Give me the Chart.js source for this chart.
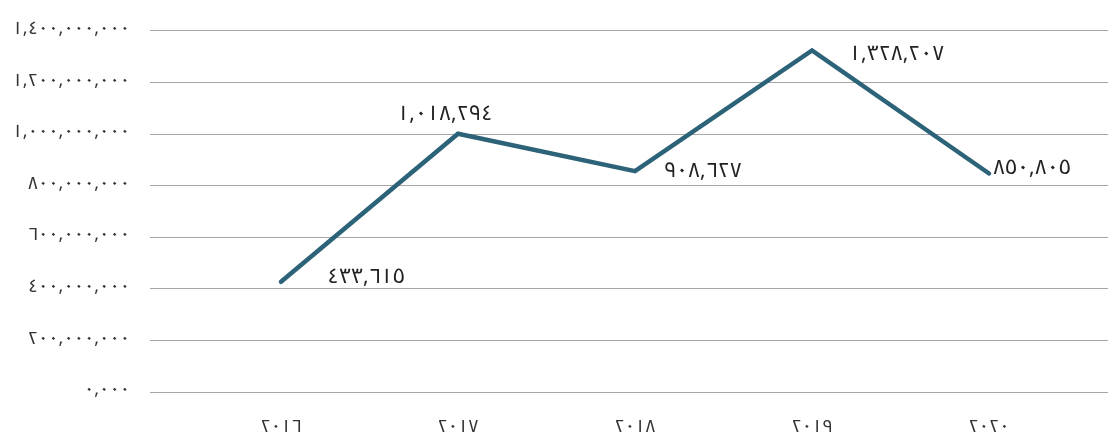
<!DOCTYPE html>
<html>
<head>
<meta charset="utf-8">
<script src="https://cdn.jsdelivr.net/npm/chart.js@4.4.1/dist/chart.umd.min.js"></script>
<style>
    html, body { margin: 0; padding: 0; background: #fff; }
    #wrap { width: 1110px; height: 434px; }
</style>
</head>
<body>
<div id="wrap"><canvas id="salesChart"></canvas></div>
<script>
// Данные графика
const years = [2016, 2017, 2018, 2019, 2020];
const values = [427000000, 1001000000, 856000000, 1324000000, 847000000];
const valueLabels = ['٤٣٣,٦١٥', '١,٠١٨,٢٩٤', '٩٠٨,٦٢٧', '١,٣٢٨,٢٠٧', '٨٥٠,٨٠٥'];
const yTicks = [0, 200000000, 400000000, 600000000, 800000000, 1000000000, 1200000000, 1400000000];
const yTickLabels = ['٠,٠٠٠', '٢٠٠,٠٠٠,٠٠٠', '٤٠٠,٠٠٠,٠٠٠', '٦٠٠,٠٠٠,٠٠٠', '٨٠٠,٠٠٠,٠٠٠',
    '١,٠٠٠,٠٠٠,٠٠٠', '١,٢٠٠,٠٠٠,٠٠٠', '١,٤٠٠,٠٠٠,٠٠٠'];
const xTickLabels = ['٢٠١٦', '٢٠١٧', '٢٠١٨', '٢٠١٩', '٢٠٢٠'];

// смещения подписей значений относительно точек
const labelOffsets = [
    { dx: 46, dy: -3, align: 'left' },
    { dx: -13, dy: -17, align: 'center' },
    { dx: 29, dy: 2, align: 'left' },
    { dx: 37, dy: 6, align: 'left' },
    { dx: 4, dy: -3, align: 'left' }
];

const FONT = '"Noto Kufi Arabic", "DejaVu Sans", sans-serif';

const valueLabelsPlugin = {
    id: 'valueLabels',
    afterDatasetsDraw(chart) {
        const ctx = chart.ctx;
        const meta = chart.getDatasetMeta(0);
        ctx.save();
        ctx.font = '21px ' + FONT;
        ctx.letterSpacing = '1px';
        ctx.fillStyle = '#222';
        ctx.textBaseline = 'middle';
        meta.data.forEach((pt, i) => {
            const o = labelOffsets[i];
            ctx.textAlign = o.align;
            ctx.fillText(valueLabels[i], pt.x + o.dx, pt.y + o.dy);
        });
        ctx.restore();
    }
};

function renderSalesChart() {
    const ctx = document.getElementById('salesChart').getContext('2d');

    new Chart(ctx, {
        type: 'line',
        data: {
            datasets: [{
                data: years.map((y, i) => ({ x: y, y: values[i] })),
                borderColor: 'rgb(44,99,120)',
                borderWidth: 4.5,
                borderCapStyle: 'round',
                borderJoinStyle: 'miter',
                pointRadius: 0,
                fill: false,
                tension: 0
            }]
        },
        options: {
            responsive: true,
            maintainAspectRatio: false,
            animation: false,
            layout: {
                padding: { top: 26, right: 2, left: 0, bottom: 0 }
            },
            plugins: {
                legend: { display: false },
                tooltip: { enabled: false }
            },
            scales: {
                x: {
                    type: 'linear',
                    min: 2015.26,
                    max: 2020.672,
                    grid: { display: false },
                    border: { display: false },
                    afterBuildTicks: axis => {
                        axis.ticks = years.map(v => ({ value: v }));
                    },
                    afterFit: axis => { axis.height = 42; },
                    ticks: {
                        padding: 18,
                        color: '#333',
                        font: { family: FONT, size: 18 },
                        callback: (v) => xTickLabels[years.indexOf(v)]
                    }
                },
                y: {
                    min: 0,
                    max: 1400000000,
                    afterBuildTicks: axis => {
                        axis.ticks = yTicks.map(v => ({ value: v }));
                    },
                    afterFit: axis => { axis.width = 150; },
                    grid: {
                        color: '#a6a6a6',
                        lineWidth: 1,
                        drawTicks: false
                    },
                    border: { display: false },
                    ticks: {
                        padding: 20,
                        color: '#333',
                        font: { family: FONT, size: 18 },
                        callback: (v) => yTickLabels[yTicks.indexOf(v)]
                    }
                }
            }
        },
        plugins: [valueLabelsPlugin]
    });
}

renderSalesChart();
</script>
</body>
</html>
